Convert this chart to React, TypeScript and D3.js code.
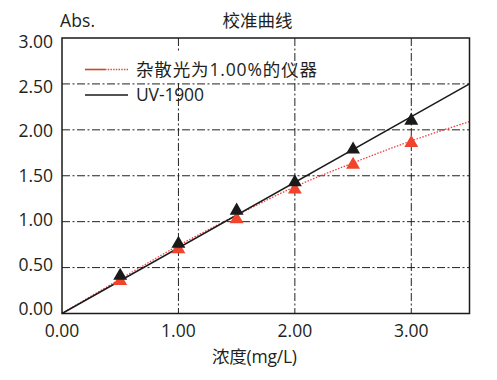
import React from "react";
import * as d3 from "d3";

const W = 497;
const H = 380;

// data
const concentrations = [0.5, 1.0, 1.5, 2.0, 2.5, 3.0];
const uvValues = [0.41, 0.76, 1.12, 1.43, 1.785, 2.1];
const strayValues = [0.354, 0.7, 1.026, 1.35, 1.62, 1.857];
const uvLineX = [0, 3.5];
const uvLineY = [0, 2.5];
const strayCurveX = [0, 0.5, 1.0, 1.5, 2.0, 2.5, 3.0, 3.5];
const strayCurveY = [0, 0.375, 0.74, 1.07, 1.38, 1.64, 1.88, 2.09];
const xTicks = [0, 1, 2, 3];
const yTicks = [0, 0.5, 1, 1.5, 2, 2.5, 3];
const xTickLabels = ["0.00", "1.00", "2.00", "3.00"];
const yTickLabels = ["0.00", "0.50", "1.00", "1.50", "2.00", "2.50", "3.00"];
const seriesNames = ["杂散光为1.00%的仪器", "UV-1900"];
const title = "校准曲线";
const yTitle = "Abs.";
const xTitle = "浓度(mg/L)";

const FONT = "'Open Sans','Noto Sans CJK SC',sans-serif";
const TXT = "#231f20";

export default function App() {
  const left = 62, right = 469.5, top = 38, bottom = 313.5;
  const x = d3.scaleLinear().domain([0, 3.5]).range([left, right]);
  const y = d3.scaleLinear().domain([0, 3]).range([bottom, top]);
  const yLab = d3.scaleLinear().domain([0, 3]).range([309, 42]);

  const line = d3.line<[number, number]>().x((d) => x(d[0])).y((d) => y(d[1]));
  const curve = d3
    .line<[number, number]>()
    .x((d) => x(d[0]))
    .y((d) => y(d[1]))
    .curve(d3.curveMonotoneX);

  const uvPts = uvLineX.map((v, i) => [v, uvLineY[i]] as [number, number]);
  const strayPts = strayCurveX.map((v, i) => [v, strayCurveY[i]] as [number, number]);
  const tri = d3.symbol().type(d3.symbolTriangle).size(84)() as string;

  const gridDash = "8,2.5,2,2.5";

  return (
    <svg
      width={W}
      height={H}
      style={{ position: "absolute", left: 0, top: 0, background: "#fff" }}
      fontFamily={FONT}
    >
      <rect x={0} y={0} width={W} height={H} fill="#fff" />
      {/* vertical grid */}
      {xTicks.slice(1).map((t) => (
        <line
          key={"vx" + t}
          x1={x(t)}
          x2={x(t)}
          y1={top}
          y2={bottom}
          stroke="#222"
          strokeWidth={1}
          strokeDasharray={gridDash}
        />
      ))}
      {/* legend background */}
      <rect x={80} y={52} width={208} height={31} fill="#fff" />
      {/* horizontal grid */}
      {yTicks.slice(1, -1).map((t) => (
        <line
          key={"hy" + t}
          x1={left}
          x2={right}
          y1={y(t)}
          y2={y(t)}
          stroke="#222"
          strokeWidth={1}
          strokeDasharray={gridDash}
        />
      ))}

      {/* stray light curve */}
      <path
        d={curve(strayPts) || ""}
        fill="none"
        stroke="#f03c3c"
        strokeWidth={1.3}
        strokeDasharray="1.5,1.5"
      />
      {/* UV-1900 line */}
      <path d={line(uvPts) || ""} fill="none" stroke="#1a1a1a" strokeWidth={1.5} />

      {/* markers */}
      {concentrations.map((c, i) => (
        <path
          key={"r" + i}
          d={tri}
          transform={`translate(${x(c)},${y(strayValues[i])})`}
          fill="#f0442c"
        />
      ))}
      {concentrations.map((c, i) => (
        <path
          key={"b" + i}
          d={tri}
          transform={`translate(${x(c)},${y(uvValues[i])})`}
          fill="#1a1a1a"
        />
      ))}

      {/* frame */}
      <rect
        x={left}
        y={top}
        width={right - left}
        height={bottom - top}
        fill="none"
        stroke="#1a1a1a"
        strokeWidth={1.5}
      />

      {/* legend */}
      <line x1={85} x2={105} y1={69.5} y2={69.5} stroke="#c8462a" strokeWidth={1.6} />
      <line
        x1={105}
        x2={128}
        y1={69.5}
        y2={69.5}
        stroke="#e04a3a"
        strokeWidth={1.4}
        strokeDasharray="1.5,1.2"
      />
      <text x={136} y={76} fontSize={17.5} fill={TXT} textLength={181} lengthAdjust="spacing">
        {seriesNames[0]}
      </text>
      <line x1={85} x2={128} y1={95} y2={95} stroke="#1a1a1a" strokeWidth={1.6} />
      <text x={136} y={100.5} fontSize={17.5} fill={TXT} textLength={68} lengthAdjust="spacing">
        {seriesNames[1]}
      </text>

      {/* axis ticks labels */}
      {yTicks.map((t, i) => (
        <text
          key={"yl" + t}
          x={53}
          y={yLab(t)}
          dy="0.36em"
          textAnchor="end"
          fontSize={17.5}
          fill={TXT}
        >
          {yTickLabels[i]}
        </text>
      ))}
      {xTicks.map((t, i) => (
        <text key={"xl" + t} x={x(t)} y={337} textAnchor="middle" fontSize={17.5} fill={TXT}>
          {xTickLabels[i]}
        </text>
      ))}

      {/* titles */}
      <text x={60} y={27} fontSize={17.5} fill={TXT} textLength={35}>
        {yTitle}
      </text>
      <text x={257.5} y={27} textAnchor="middle" fontSize={17.5} fill={TXT} textLength={70}>
        {title}
      </text>
      <text x={254.5} y={363} textAnchor="middle" fontSize={17.5} fill={TXT} textLength={85}>
        {xTitle}
      </text>
    </svg>
  );
}
